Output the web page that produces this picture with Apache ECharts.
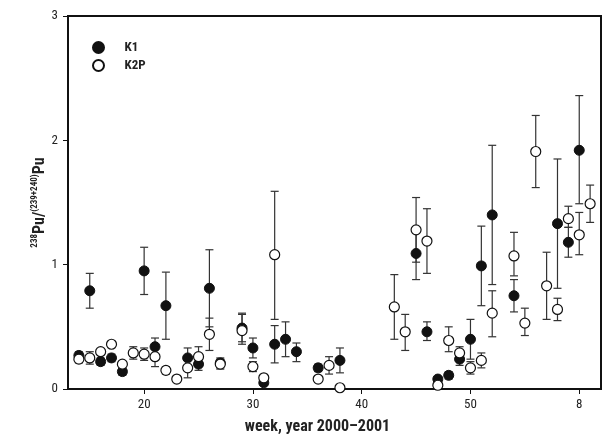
<!DOCTYPE html>
<html>
<head>
<meta charset="utf-8">
<script src="https://cdn.jsdelivr.net/npm/echarts@6/dist/echarts.min.js"></script>
<style>html,body{margin:0;padding:0;background:#fff}#c{width:604px;height:435px}</style>
</head>
<body>
<div id="c"></div>
<script>
// Week numbers: 53..61 correspond to 2001 weeks 1..9
const k1Weeks  = [14,15,16,17,18,20,21,22,24,25,26,27,29,30,31,32,33,34,36,38,45,46,47,48,49,50,51,52,54,58,59,60];
const k1Values = [0.27,0.79,0.22,0.25,0.14,0.95,0.34,0.67,0.25,0.20,0.81,0.21,0.49,0.33,0.05,0.36,0.40,0.30,0.17,0.23,1.09,0.46,0.08,0.11,0.24,0.40,0.99,1.40,0.75,1.33,1.18,1.92];
const k1Low    = [0.24,0.65,0.19,0.22,0.11,0.76,0.27,0.40,0.17,0.15,0.50,0.17,0.38,0.25,0.03,0.21,0.26,0.22,0.14,0.13,0.88,0.39,0.06,0.08,0.19,0.24,0.67,0.84,0.62,0.81,1.06,1.49];
const k1High   = [0.30,0.93,0.25,0.28,0.17,1.14,0.41,0.94,0.33,0.24,1.12,0.25,0.61,0.41,0.07,0.51,0.54,0.37,0.20,0.33,1.30,0.54,0.10,0.14,0.29,0.56,1.31,1.96,0.88,1.85,1.30,2.36];

const k2Weeks  = [14,15,16,17,18,19,20,21,22,23,24,25,26,27,29,30,31,32,36,37,38,43,44,45,46,47,48,49,50,51,52,54,55,56,57,58,59,60,61];
const k2Values = [0.24,0.25,0.30,0.36,0.20,0.29,0.28,0.26,0.15,0.08,0.17,0.26,0.44,0.20,0.47,0.18,0.09,1.08,0.08,0.19,0.01,0.66,0.46,1.28,1.19,0.03,0.39,0.29,0.17,0.23,0.61,1.07,0.53,1.91,0.83,0.64,1.37,1.24,1.49];
const k2Low    = [0.21,0.20,0.30,0.36,0.20,0.24,0.23,0.18,0.12,0.08,0.09,0.18,0.31,0.16,0.36,0.14,0.09,0.56,0.08,0.12,0.01,0.40,0.31,1.02,0.93,0.03,0.30,0.24,0.12,0.17,0.42,0.91,0.43,1.62,0.56,0.55,1.30,1.08,1.34];
const k2High   = [0.27,0.30,0.30,0.36,0.20,0.34,0.33,0.32,0.18,0.08,0.25,0.34,0.57,0.24,0.60,0.22,0.09,1.59,0.08,0.26,0.01,0.92,0.60,1.54,1.45,0.03,0.50,0.34,0.22,0.29,0.79,1.26,0.65,2.20,1.10,0.73,1.47,1.42,1.64];

const xTicks = [20,30,40,50,60];
const yTicks = [0,1,2,3];

const FONT = '"Liberation Sans Narrow","Arial Narrow","Roboto Condensed","Liberation Sans",sans-serif';

function errData(w, lo, hi){ return w.map((x,i)=>[x, lo[i], hi[i]]); }
function pts(w, v){ return w.map((x,i)=>[x, v[i]]); }

function errRender(params, api){
  const x = api.value(0), lo = api.value(1), hi = api.value(2);
  if (hi - lo < 0.005) return null;
  const pHi = api.coord([x, hi]);
  const pLo = api.coord([x, lo]);
  const hw = 4;
  const st = {stroke:'#333', lineWidth:1.2, fill:null};
  return {type:'group', children:[
    {type:'line', shape:{x1:pHi[0],y1:pHi[1],x2:pLo[0],y2:pLo[1]}, style:st},
    {type:'line', shape:{x1:pHi[0]-hw,y1:pHi[1],x2:pHi[0]+hw,y2:pHi[1]}, style:st},
    {type:'line', shape:{x1:pLo[0]-hw,y1:pLo[1],x2:pLo[0]+hw,y2:pLo[1]}, style:st}
  ]};
}

const chart = echarts.init(document.getElementById('c'), null, {renderer:'canvas'});
chart.setOption({
  animation:false,
  backgroundColor:'#fff',
  grid:{left:68, right:3, top:16, bottom:46, outerBoundsMode:'none', containLabel:false,
    show:true, borderColor:'#111', borderWidth:2, backgroundColor:'transparent'},
  legend:{
    left:87, top:36, orient:'vertical', itemWidth:12, itemHeight:11, itemGap:5,
    data:[{name:'K1', icon:'circle'},{name:'K2P', icon:'circle'}],
    textStyle:{fontFamily:FONT, fontWeight:'bold', fontSize:13, color:'#222', padding:[0,0,0,15]}
  },
  xAxis:{
    type:'value', min:13, max:62, interval:10,
    axisLine:{show:true, lineStyle:{color:'#111', width:2}},
    axisTick:{show:true, length:5, lineStyle:{color:'#111', width:1}, customValues:xTicks},
    axisLabel:{fontFamily:FONT, fontSize:13, color:'#222', margin:9, customValues:xTicks,
      formatter:v=> (v>52 ? String(v-52) : String(v))},
    splitLine:{show:false},
    name:'week, year 2000\u20132001', nameLocation:'middle', nameGap:30,
    nameTextStyle:{fontFamily:FONT, fontWeight:'bold', fontSize:16, color:'#222', padding:[0,34,0,0]}
  },
  yAxis:{
    type:'value', min:0, max:3, interval:1,
    axisLine:{show:true, lineStyle:{color:'#111', width:2}},
    axisTick:{show:true, length:5, lineStyle:{color:'#111', width:1}},
    axisLabel:{fontFamily:FONT, fontSize:13, color:'#222', margin:10, formatter:v=>String(v)},
    splitLine:{show:false},
    name:'{s|238}{b|Pu/}{s|(239+240)}{b|Pu}', nameLocation:'middle', nameGap:20, nameRotate:90,
    nameMoveOverlap:false,
    nameTextStyle:{
      fontFamily:FONT, color:'#222',
      rich:{
        b:{fontFamily:FONT, fontWeight:'bold', fontSize:16, color:'#222', lineHeight:18, verticalAlign:'bottom'},
        s:{fontFamily:FONT, fontWeight:'bold', fontSize:9, color:'#222', lineHeight:18, verticalAlign:'top', padding:[0,0,9,0]}
      }
    }
  },
  series:[
    {name:'K1err', type:'custom', renderItem:errRender, data:errData(k1Weeks,k1Low,k1High), z:1, silent:true},
    {name:'K2Perr', type:'custom', renderItem:errRender, data:errData(k2Weeks,k2Low,k2High), z:1, silent:true},
    {name:'K1', type:'scatter', symbol:'circle', symbolSize:10, data:pts(k1Weeks,k1Values),
      itemStyle:{color:'#111', borderColor:'#111', borderWidth:1, opacity:1}, z:3},
    {name:'K2P', type:'scatter', symbol:'circle', symbolSize:10, data:pts(k2Weeks,k2Values),
      itemStyle:{color:'#fff', borderColor:'#111', borderWidth:1.2, opacity:1}, z:4}
  ]
});
</script>
</body>
</html>
